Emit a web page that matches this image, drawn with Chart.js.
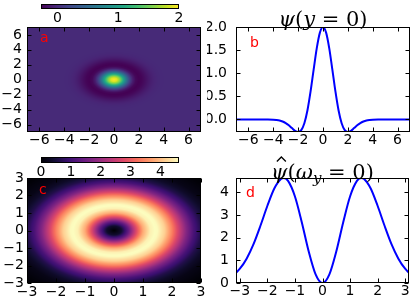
<!DOCTYPE html>
<html>
<head>
<meta charset="utf-8">
<script src="https://cdn.jsdelivr.net/npm/chart.js@4.4.0/dist/chart.umd.min.js"></script>
<style>
  body { margin: 0; background: #fff; }
  #fig { position: relative; width: 415px; height: 304px; overflow: hidden; background: #fff; }
  #fig canvas { position: absolute; }
</style>
</head>
<body>
<div id="fig">
  <canvas id="cbarA" width="207" height="26" style="left:0;top:0"></canvas>
  <canvas id="panelA" width="207" height="136" style="left:0;top:14px"></canvas>
  <canvas id="panelB" width="208" height="150" style="left:207px;top:0"></canvas>
  <canvas id="cbarC" width="207" height="28" style="left:0;top:150px"></canvas>
  <canvas id="panelC" width="207" height="139" style="left:0;top:165px"></canvas>
  <canvas id="panelD" width="208" height="154" style="left:207px;top:150px"></canvas>
</div>
<script>
// psi(y=0): slice through panel a, also used as its radial profile
const psiX = [-7, -6, -5, -4.5, -4, -3.75, -3.5, -3.25, -3, -2.75, -2.5, -2.25, -2, -1.75, -1.5, -1.25, -1, -0.75, -0.5, -0.25,
              0, 0.25, 0.5, 0.75, 1, 1.25, 1.5, 1.75, 2, 2.25, 2.5, 2.75, 3, 3.25, 3.5, 3.75, 4, 4.5, 5, 6, 7];
const psiY = [0, 0, 0, -0.001, -0.005, -0.011, -0.022, -0.044, -0.078, -0.127, -0.187, -0.244, -0.271, -0.230, -0.081, 0.200, 0.607, 1.085, 1.544, 1.878,
              2.000, 1.878, 1.544, 1.085, 0.607, 0.200, -0.081, -0.230, -0.271, -0.244, -0.187, -0.127, -0.078, -0.044, -0.022, -0.011, -0.005, -0.001, 0, 0, 0];

// psi-hat(omega_y=0): slice through panel c (points past +-pi only feed the ring)
const hatX = [-4.5, -4, -3.5, -3.25, -3, -2.75, -2.5, -2.25, -2, -1.75, -1.5, -1.41, -1.25, -1, -0.75, -0.5, -0.25,
              0, 0.25, 0.5, 0.75, 1, 1.25, 1.41, 1.5, 1.75, 2, 2.25, 2.5, 2.75, 3, 3.25, 3.5, 4, 4.5];
const hatY = [0.005, 0.034, 0.168, 0.338, 0.628, 1.083, 1.725, 2.531, 3.401, 4.161, 4.590, 4.623, 4.495, 3.811, 2.668, 1.386, 0.381,
              0, 0.381, 1.386, 2.668, 3.811, 4.495, 4.623, 4.590, 4.161, 3.401, 2.531, 1.725, 1.083, 0.628, 0.338, 0.168, 0.034, 0.005];

const ticksA = [-6, -4, -2, 0, 2, 4, 6];
const ticksBy = [0, 0.5, 1, 1.5, 2];
const ticksC = [-3, -2, -1, 0, 1, 2, 3];
const ticksDx = [-3, -2, -1, 0, 1, 2, 3];
const ticksDy = [0, 1, 2, 3, 4];
const cbarTicksA = [0, 1, 2];
const cbarTicksC = [0, 1, 2, 3, 4];
const limitsA = [-0.271, 2.0];
const limitsC = [0, 4.623];

const viridis = ['#440154', '#482475', '#414487', '#355f8d', '#2a788e', '#21918c', '#22a884', '#44bf70', '#7ad151', '#bddf26', '#fde725'];
const magma = ['#000004', '#140e36', '#3b0f70', '#641a80', '#8c2981', '#b73779', '#de4968', '#f7705c', '#fe9f6d', '#fecf92', '#fcfdbf'];

const TICK_FONT = { family: 'DejaVu Sans', size: 14 };
const minus = v => String(v).replace('-', '\u2212');

function hexRgb(h) { return [1, 3, 5].map(i => parseInt(h.substr(i, 2), 16)); }

function cmapColor(rgbStops, t) {
  t = Math.min(1, Math.max(0, t));
  const p = t * (rgbStops.length - 1);
  const i = Math.min(Math.floor(p), rgbStops.length - 2);
  const f = p - i;
  const a = rgbStops[i], b = rgbStops[i + 1];
  return [a[0] + (b[0] - a[0]) * f, a[1] + (b[1] - a[1]) * f, a[2] + (b[2] - a[2]) * f];
}

// radial profile from the x>=0 half of a slice
function radialProfile(xs, ys) {
  const pts = xs.map((x, i) => [x, ys[i]]).filter(p => p[0] >= 0);
  return r => {
    for (let i = 1; i < pts.length; i++) {
      if (r <= pts[i][0]) {
        const [x0, y0] = pts[i - 1], [x1, y1] = pts[i];
        return y0 + (y1 - y0) * (r - x0) / (x1 - x0);
      }
    }
    return pts[pts.length - 1][1];
  };
}

function heatmap(profile, colors, limits) {
  const stops = colors.map(hexRgb);
  return {
    id: 'heatmap',
    beforeDatasetsDraw(chart) {
      const { ctx, chartArea: a, scales: { x, y } } = chart;
      const L = Math.round(a.left), T = Math.round(a.top);
      const W = Math.round(a.right) - L, H = Math.round(a.bottom) - T;
      const img = ctx.createImageData(W, H);
      for (let j = 0; j < H; j++) {
        const yv = y.getValueForPixel(T + j + 0.5);
        for (let i = 0; i < W; i++) {
          const xv = x.getValueForPixel(L + i + 0.5);
          const c = cmapColor(stops, (profile(Math.hypot(xv, yv)) - limits[0]) / (limits[1] - limits[0]));
          const k = (j * W + i) * 4;
          img.data[k] = c[0]; img.data[k + 1] = c[1]; img.data[k + 2] = c[2]; img.data[k + 3] = 255;
        }
      }
      ctx.putImageData(img, L, T);
    }
  };
}

function colorbarFill(colors) {
  return {
    id: 'cbfill',
    beforeDatasetsDraw(chart) {
      const { ctx, chartArea: a } = chart;
      const g = ctx.createLinearGradient(a.left, 0, a.right, 0);
      colors.forEach((c, i) => g.addColorStop(i / (colors.length - 1), c));
      ctx.save();
      ctx.fillStyle = g;
      ctx.fillRect(a.left, a.top, a.right - a.left, a.bottom - a.top);
      ctx.strokeStyle = '#000';
      ctx.lineWidth = 1;
      ctx.strokeRect(Math.round(a.left) + 0.5, Math.round(a.top) + 0.5, Math.round(a.right - a.left) - 1, Math.round(a.bottom - a.top) - 1);
      ctx.restore();
    }
  };
}

// black frame with matplotlib-style inward ticks on all four sides
const frame = {
  id: 'frame',
  afterDraw(chart) {
    const { ctx, chartArea: a, scales: { x, y } } = chart;
    const L = Math.round(a.left) + 0.5, R = Math.round(a.right) - 0.5;
    const T = Math.round(a.top) + 0.5, B = Math.round(a.bottom) - 0.5;
    ctx.save();
    ctx.strokeStyle = '#000';
    ctx.lineWidth = 1;
    ctx.beginPath();
    x.ticks.forEach(t => {
      const p = Math.round(x.getPixelForValue(t.value)) + 0.5;
      ctx.moveTo(p, B); ctx.lineTo(p, B - 4);
      ctx.moveTo(p, T); ctx.lineTo(p, T + 4);
    });
    y.ticks.forEach(t => {
      const p = Math.round(y.getPixelForValue(t.value)) + 0.5;
      ctx.moveTo(L, p); ctx.lineTo(L + 4, p);
      ctx.moveTo(R, p); ctx.lineTo(R - 4, p);
    });
    ctx.stroke();
    ctx.strokeRect(L, T, R - L, B - T);
    ctx.restore();
  }
};

function tag(letter, dx, dy) {
  return {
    id: 'tag',
    afterDraw(chart) {
      const { ctx, chartArea: a } = chart;
      ctx.save();
      ctx.fillStyle = '#ff0000';
      ctx.font = '14px "DejaVu Sans"';
      ctx.textBaseline = 'alphabetic';
      ctx.fillText(letter, a.left + dx, a.top + dy);
      ctx.restore();
    }
  };
}

// math-style title: italic symbols, upright digits/punctuation, optional subscript and hat
function mathTitle(parts, lift) {
  const size = 21;
  const fontOf = p => (p.it ? 'italic ' : '') + (p.sub ? Math.round(size * 0.7) : size) + 'px "DejaVu Serif"';
  return {
    id: 'mtitle',
    afterDraw(chart) {
      const { ctx, chartArea: a } = chart;
      ctx.save();
      ctx.fillStyle = '#000';
      ctx.strokeStyle = '#000';
      ctx.textBaseline = 'alphabetic';
      let total = 0;
      parts.forEach(p => { ctx.font = fontOf(p); total += ctx.measureText(p.t).width; });
      let x = (a.left + a.right) / 2 - total / 2;
      const base = a.top - lift;
      parts.forEach(p => {
        ctx.font = fontOf(p);
        const w = ctx.measureText(p.t).width;
        ctx.fillText(p.t, x, p.sub ? base + 4 : base);
        if (p.hat) {
          const cx = x + w / 2 + 2, ty = base - 22;
          ctx.lineWidth = 1.3;
          ctx.beginPath();
          ctx.moveTo(cx - 4.5, ty + 4.5); ctx.lineTo(cx, ty); ctx.lineTo(cx + 4.5, ty + 4.5);
          ctx.stroke();
        }
        x += w;
      });
      ctx.restore();
    }
  };
}

function fixedTicks(values) {
  return scale => { scale.ticks = values.map(v => ({ value: v })); };
}

function axis(min, max, values, opts) {
  return {
    type: 'linear', min, max,
    afterBuildTicks: fixedTicks(values),
    afterFit: s => { if (opts.width != null) s.width = opts.width; if (opts.height != null) s.height = opts.height; },
    grid: { display: false, drawTicks: false },
    border: { display: false },
    ticks: { font: TICK_FONT, color: '#000', padding: opts.pad, autoSkip: false, maxRotation: 0, callback: opts.fmt || (v => minus(v)) }
  };
}

const common = {
  responsive: false, animation: false, devicePixelRatio: 1,
  plugins: { legend: { display: false }, tooltip: { enabled: false }, title: { display: false } }
};

function colorbar(id, colors, limits, values, pad, height, tpad) {
  new Chart(document.getElementById(id), {
    type: 'scatter',
    data: { datasets: [{ data: [] }] },
    options: Object.assign({}, common, {
      layout: { padding: pad },
      scales: {
        x: axis(limits[0], limits[1], values, { height, pad: tpad }),
        y: { display: false, min: 0, max: 1 }
      }
    }),
    plugins: [colorbarFill(colors)]
  });
}

function heatPanel(id, lim, ticks, profile, colors, limits, pad, yw, xh, ypad, xpad, label) {
  new Chart(document.getElementById(id), {
    type: 'scatter',
    data: { datasets: [{ data: [] }] },
    options: Object.assign({}, common, {
      layout: { padding: pad },
      scales: {
        x: axis(-lim, lim, ticks, { height: xh, pad: xpad }),
        y: axis(-lim, lim, ticks, { width: yw, pad: ypad })
      }
    }),
    plugins: [heatmap(profile, colors, limits), frame, label]
  });
}

function linePanel(id, xs, ys, xr, yr, xt, yt, yfmt, pad, yw, xh, ypad, xpad, label, title) {
  new Chart(document.getElementById(id), {
    type: 'line',
    data: { datasets: [{
      data: xs.map((x, i) => ({ x, y: ys[i] })),
      borderColor: '#0000ff', borderWidth: 2, pointRadius: 0,
      cubicInterpolationMode: 'monotone', fill: false
    }] },
    options: Object.assign({}, common, {
      layout: { padding: pad },
      scales: {
        x: axis(xr[0], xr[1], xt, { height: xh, pad: xpad }),
        y: axis(yr[0], yr[1], yt, { width: yw, pad: ypad, fmt: yfmt })
      }
    }),
    plugins: [frame, label, title]
  });
}

colorbar('cbarA', viridis, limitsA, cbarTicksA, { left: 41, right: 28, top: 4 }, 17, 1);
heatPanel('panelA', 7, ticksA, radialProfile(psiX, psiY), viridis, limitsA,
  { top: 13, right: 6 }, 27, 18, 5, 0, tag('a', 13, 15));

linePanel('panelB', psiX, psiY, [-7, 7], [-0.271, 2.0], ticksA, ticksBy, v => v.toFixed(1),
  { top: 27, right: 5 }, 29, 18, 9, 0, tag('b', 14, 20),
  mathTitle([{ t: '\u03c8', it: true }, { t: '(' }, { t: 'y', it: true }, { t: ' = 0)' }], 1));

colorbar('cbarC', magma, limitsC, cbarTicksC, { left: 41, right: 28, top: 7 }, 15, 1);
heatPanel('panelC', 3, ticksC, radialProfile(hatX, hatY), magma, limitsC,
  { top: 13, right: 6 }, 27, 21, 3, 1, tag('c', 12, 16));

linePanel('panelD', hatX, hatY, [-3.14, 3.14], [0, 4.623], ticksDx, ticksDy, v => String(v),
  { top: 28, right: 6 }, 29, 21, 7, 0, tag('d', 10, 19),
  mathTitle([{ t: '\u03c8', it: true, hat: true }, { t: '(' }, { t: '\u03c9', it: true }, { t: 'y', it: true, sub: true }, { t: ' = 0)' }], -1));
</script>
</body>
</html>
